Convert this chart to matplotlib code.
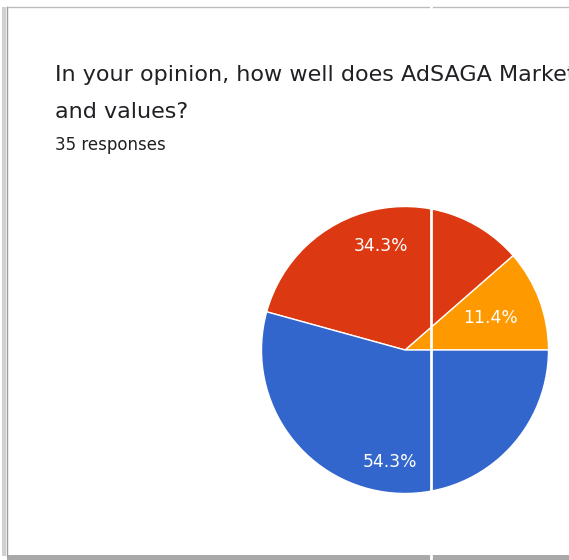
import numpy as np
import matplotlib
matplotlib.use('Agg')
from matplotlib import pyplot as plt
from matplotlib.lines import Line2D
from matplotlib.patches import Rectangle

# Survey answers (35 responses), drawn counter-clockwise from 3 o'clock
answers = ['Somewhat', 'Well', 'Very well']
counts = [4, 12, 19]
sliceColors = ['#FF9900', '#DC3912', '#3366CC']
labelDist = [0.64, 0.745, 0.79]

titleLines = ['In your opinion, how well does AdSAGA Marketing', 'and values?']
subtitle = '35 responses'

W, H = 569, 560
fig = plt.figure(figsize=(W / 100, H / 100), dpi=100)
fig.patch.set_facecolor('white')
plt.rcParams['font.family'] = ['DejaVu Sans']

def px(x, y):
	return x / W, 1 - y / H

# card outline: thin grey top edge, left edge and heavier bottom shadow
fig.add_artist(Line2D([px(7, 0)[0], 1], [px(0, 7)[1]] * 2, color='#bdbdbd', lw=1))
fig.add_artist(Rectangle(px(2, 556), 4 / W, 549 / H, color='#d0d0d0', lw=0))
fig.add_artist(Line2D([px(7, 0)[0]] * 2, [px(0, 556)[1], px(0, 7)[1]], color='#9e9e9e', lw=1))
fig.add_artist(Rectangle(px(7, 560), 1 - 7 / W, 5 / H, color='#a9a9a9', lw=0))

fig.text(*px(55, 81), titleLines[0], fontsize=16, color='#202124', va='baseline')
fig.text(*px(55, 118), titleLines[1], fontsize=16, color='#202124', va='baseline')
fig.text(*px(55, 150), subtitle, fontsize=12, color='#202124', va='baseline')

# pie axes, centre at (405, 350) px and radius ~143 px
cx, cy, r = 405, 350, 143.5
l, t = px(cx - r, cy - r)
ax = fig.add_axes([l, t - 2 * r / H, 2 * r / W, 2 * r / H])
wedges, texts, autotexts = ax.pie(counts, colors=sliceColors, startangle=0, counterclock=True,
	autopct='%1.1f%%', pctdistance=0.7,
	wedgeprops={'edgecolor': 'white', 'linewidth': 1},
	textprops={'color': 'white', 'fontsize': 12.3})
for w, txt, d in zip(wedges, autotexts, labelDist):
	ang = np.deg2rad((w.theta1 + w.theta2) / 2)
	txt.set_position((d * np.cos(ang), d * np.sin(ang)))
ax.set_xlim(-1, 1)
ax.set_ylim(-1, 1)
ax.set_aspect('equal')
ax.axis('off')

# white seam running down the card
fig.add_artist(Line2D([px(431, 0)[0]] * 2, [0, 1], color='white', lw=2))

plt.savefig('out.png', dpi=100, facecolor='white')
